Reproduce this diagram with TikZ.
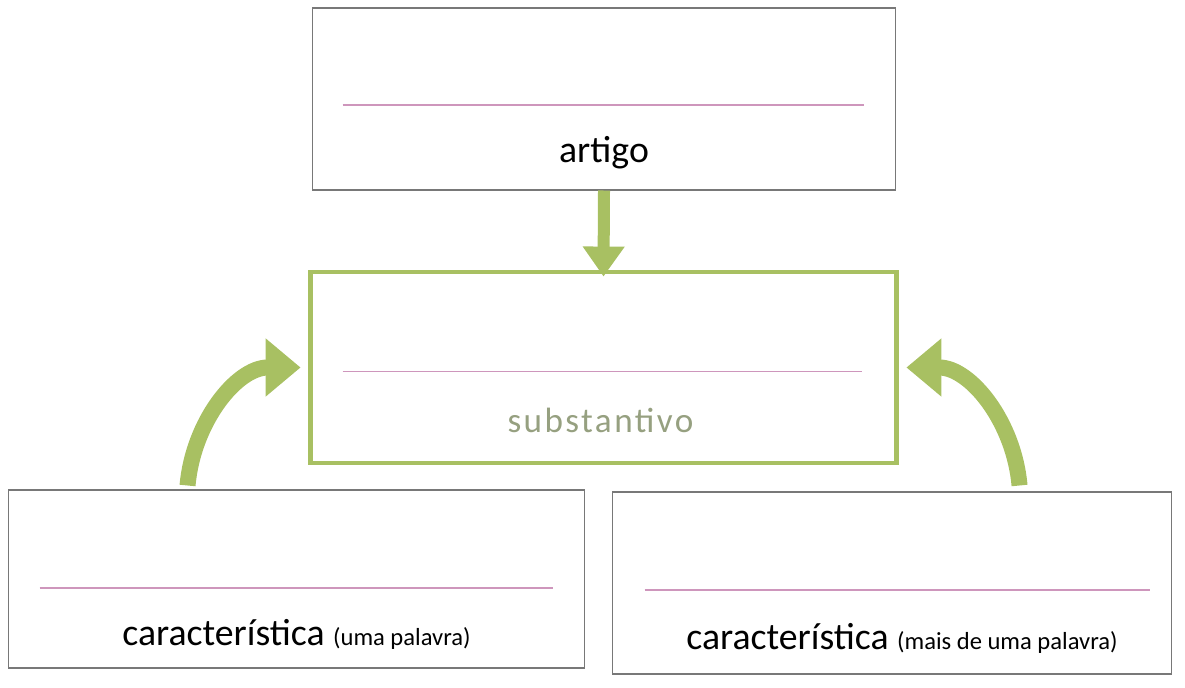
\documentclass[tikz,border=0pt]{standalone}
\usepackage{fontspec}
\setmainfont{Carlito}
\usepackage{tikz}
\usetikzlibrary{calc}
\usetikzlibrary{arrows.meta,positioning}

\definecolor{leaf}{RGB}{168,192,98}
\definecolor{rule}{RGB}{206,150,188}
\definecolor{frame}{RGB}{120,120,120}
\definecolor{pale}{RGB}{150,160,128}

\begin{document}
\begin{tikzpicture}[x=0.02cm,y=-0.02cm,semithick,
                    font=\fontsize{21.5}{24}\selectfont]
  \tikzstyle{card}=[draw=frame,line width=0.6pt,fill=white,inner sep=0pt]
  \tikzstyle{answer}=[draw=rule,line width=0.6pt]
  \tikzstyle{down}=[draw=leaf,line width=0.24cm,-{Triangle[width=0.8cm,length=0.6cm]}]
  \tikzstyle{curl}=[draw=leaf,line width=0.32cm,-{Triangle[width=1.12cm,length=0.7cm]}]

  \useasboundingbox (0,0) rectangle (1185,688);

  \node[card, minimum width=11.68cm, minimum height=3.64cm]  (A) at (604,99)    {};
  \node[card, draw=leaf, line width=2.8pt,
        minimum width=11.74cm, minimum height=3.82cm]        (B) at (603.5,367.5) {};
  \node[card, minimum width=11.54cm, minimum height=3.56cm]  (C) at (296.5,579) {};
  \node[card, minimum width=11.2cm, minimum height=3.64cm]   (D) at (892,583)   {};

  % write-in lines
  \draw[answer] ($(A.west)+(31,6)$)  -- ($(A.east)+(-32,6)$);
  \draw[answer] ($(B.west)+(35,4)$)  -- ($(B.east)+(-37,4)$);
  \draw[answer] ($(C.west)+(32,9)$)  -- ($(C.east)+(-32,9)$);
  \draw[answer] ($(D.west)+(33,7)$)  -- ($(D.east)+(-22,7)$);

  \node[anchor=base] (a) at ($(A.south)+(0,-28)$) {artigo};
  \node[anchor=base, text=pale,
        font=\fontsize{20}{24}\selectfont\addfontfeature{LetterSpace=7}]
        (b) at ($(B.south)+(-3,-33)$) {substantivo};
  \node[anchor=base] (c) at ($(C.south)+(0,-23)$)
        {característica {\fontsize{14}{16}\selectfont(uma palavra)}};
  \node[anchor=base] (d) at ($(D.south)+(10,-25)$)
        {característica {\fontsize{14}{16}\selectfont(mais de uma palavra)}};

  \coordinate (l) at ($(C.north west)+(180,-4)$);
  \coordinate (r) at ($(D.north west)+(408,-6)$);

  \path[down] (A.south) -- ([yshift=-0.14cm]B.north);
  \path[curl] (l) to[out=85,in=180] ([xshift=-0.14cm]B.west);
  \path[curl] (r) to[out=95,in=0]   ([xshift=0.14cm]B.east);

\end{tikzpicture}
\end{document}
